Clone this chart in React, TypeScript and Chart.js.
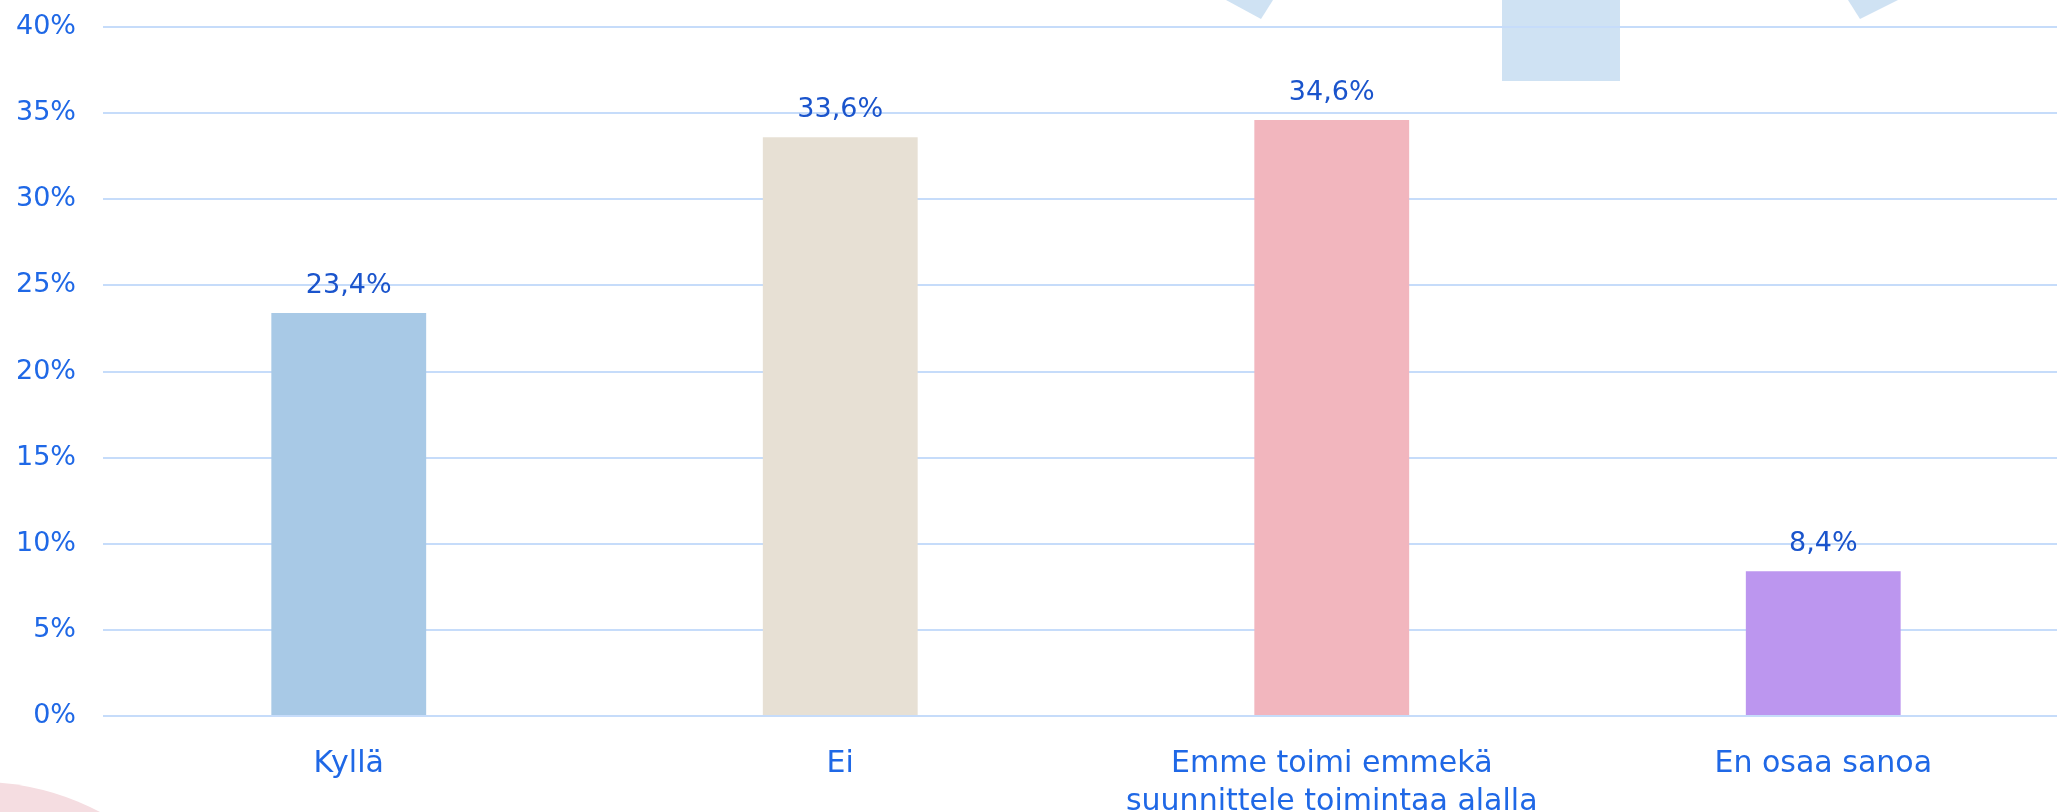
import React, { useEffect, useRef } from "react";
import { Chart, registerables } from "chart.js";

Chart.register(...registerables);

const categories: (string | string[])[] = [
  "Kyllä",
  "Ei",
  ["Emme toimi emmekä", "suunnittele toimintaa alalla"],
  "En osaa sanoa",
];
const values: number[] = [23.4, 33.6, 34.6, 8.4];
const barColors: string[] = ["#a8c9e6", "#e7e0d4", "#f2b6be", "#bc96ef"];
const yTicks: number[] = [0, 5, 10, 15, 20, 25, 30, 35, 40];

const W = 2057;
const H = 812;
const CANVAS_W = 2069; // plot area continues slightly past the visible frame
const FONT = "'DejaVu Sans', sans-serif";
const TICK_COLOR = "#1f68e6";
const LABEL_COLOR = "#1a54cc";

const decorPlugin = {
  id: "decor",
  beforeDraw(chart: any) {
    const ctx = chart.ctx;
    ctx.save();
    ctx.fillStyle = "#ffffff";
    ctx.fillRect(0, 0, chart.width, chart.height);
    ctx.fillStyle = "#cfe2f3";
    ctx.fillRect(1502, 0, 118, 81);
    ctx.beginPath();
    ctx.moveTo(1226, 0);
    ctx.lineTo(1273, 0);
    ctx.lineTo(1261, 19);
    ctx.closePath();
    ctx.fill();
    ctx.beginPath();
    ctx.moveTo(1848, 0);
    ctx.lineTo(1898, 0);
    ctx.lineTo(1860, 19);
    ctx.closePath();
    ctx.fill();
    ctx.fillStyle = "#f5dde1";
    ctx.beginPath();
    ctx.arc(-20, 1037, 255, 0, Math.PI * 2);
    ctx.fill();
    ctx.restore();
  },
};

const valueLabelPlugin = {
  id: "valueLabels",
  afterDatasetsDraw(chart: any) {
    const ctx = chart.ctx;
    const meta = chart.getDatasetMeta(0);
    ctx.save();
    ctx.font = `400 27px ${FONT}`;
    ctx.fillStyle = LABEL_COLOR;
    ctx.textAlign = "center";
    ctx.textBaseline = "middle";
    meta.data.forEach((bar: any, i: number) => {
      const txt = values[i].toFixed(1).replace(".", ",") + "%";
      ctx.fillText(txt, bar.x, bar.y - 27);
    });
    ctx.restore();
  },
};

export default function App() {
  const ref = useRef<HTMLCanvasElement | null>(null);

  useEffect(() => {
    document.body.style.margin = "0";
    const canvas = ref.current;
    if (!canvas) return;
    const chart = new Chart(canvas, {
      type: "bar",
      data: {
        labels: categories as any,
        datasets: [
          {
            data: values,
            backgroundColor: barColors,
            borderWidth: 0,
            categoryPercentage: 1,
            barPercentage: 0.315,
          },
        ],
      },
      options: {
        responsive: false,
        animation: false,
        devicePixelRatio: 1,
        layout: { padding: { top: 27, right: 0, left: 0, bottom: 0 } },
        plugins: {
          legend: { display: false },
          tooltip: { enabled: false },
        },
        scales: {
          x: {
            grid: { display: false },
            border: { display: false },
            ticks: {
              color: TICK_COLOR,
              font: { family: FONT, size: 30, weight: "400", lineHeight: 1.24 },
              padding: 22,
              maxRotation: 0,
              autoSkip: false,
            },
            afterFit(scale: any) {
              scale.height = 96;
            },
          },
          y: {
            min: 0,
            max: 40,
            afterBuildTicks(scale: any) {
              scale.ticks = yTicks.map((v) => ({ value: v }));
            },
            grid: {
              color: "#c6dcfa",
              lineWidth: 2,
              drawTicks: false,
              tickLength: 0,
            },
            border: { display: false },
            ticks: {
              color: TICK_COLOR,
              font: { family: FONT, size: 27, weight: "400" },
              padding: 27,
              callback: (v: any) => `${v}%`,
            },
            afterFit(scale: any) {
              scale.width = 103;
              scale.paddingTop = 0;
              scale.paddingBottom = 0;
            },
          },
        },
      },
      plugins: [decorPlugin, valueLabelPlugin],
    });
    return () => chart.destroy();
  }, []);

  return (
    <div style={{ width: W, height: H, position: "relative", overflow: "hidden" }}>
      <canvas ref={ref} width={CANVAS_W} height={H} style={{ display: "block" }} />
    </div>
  );
}
